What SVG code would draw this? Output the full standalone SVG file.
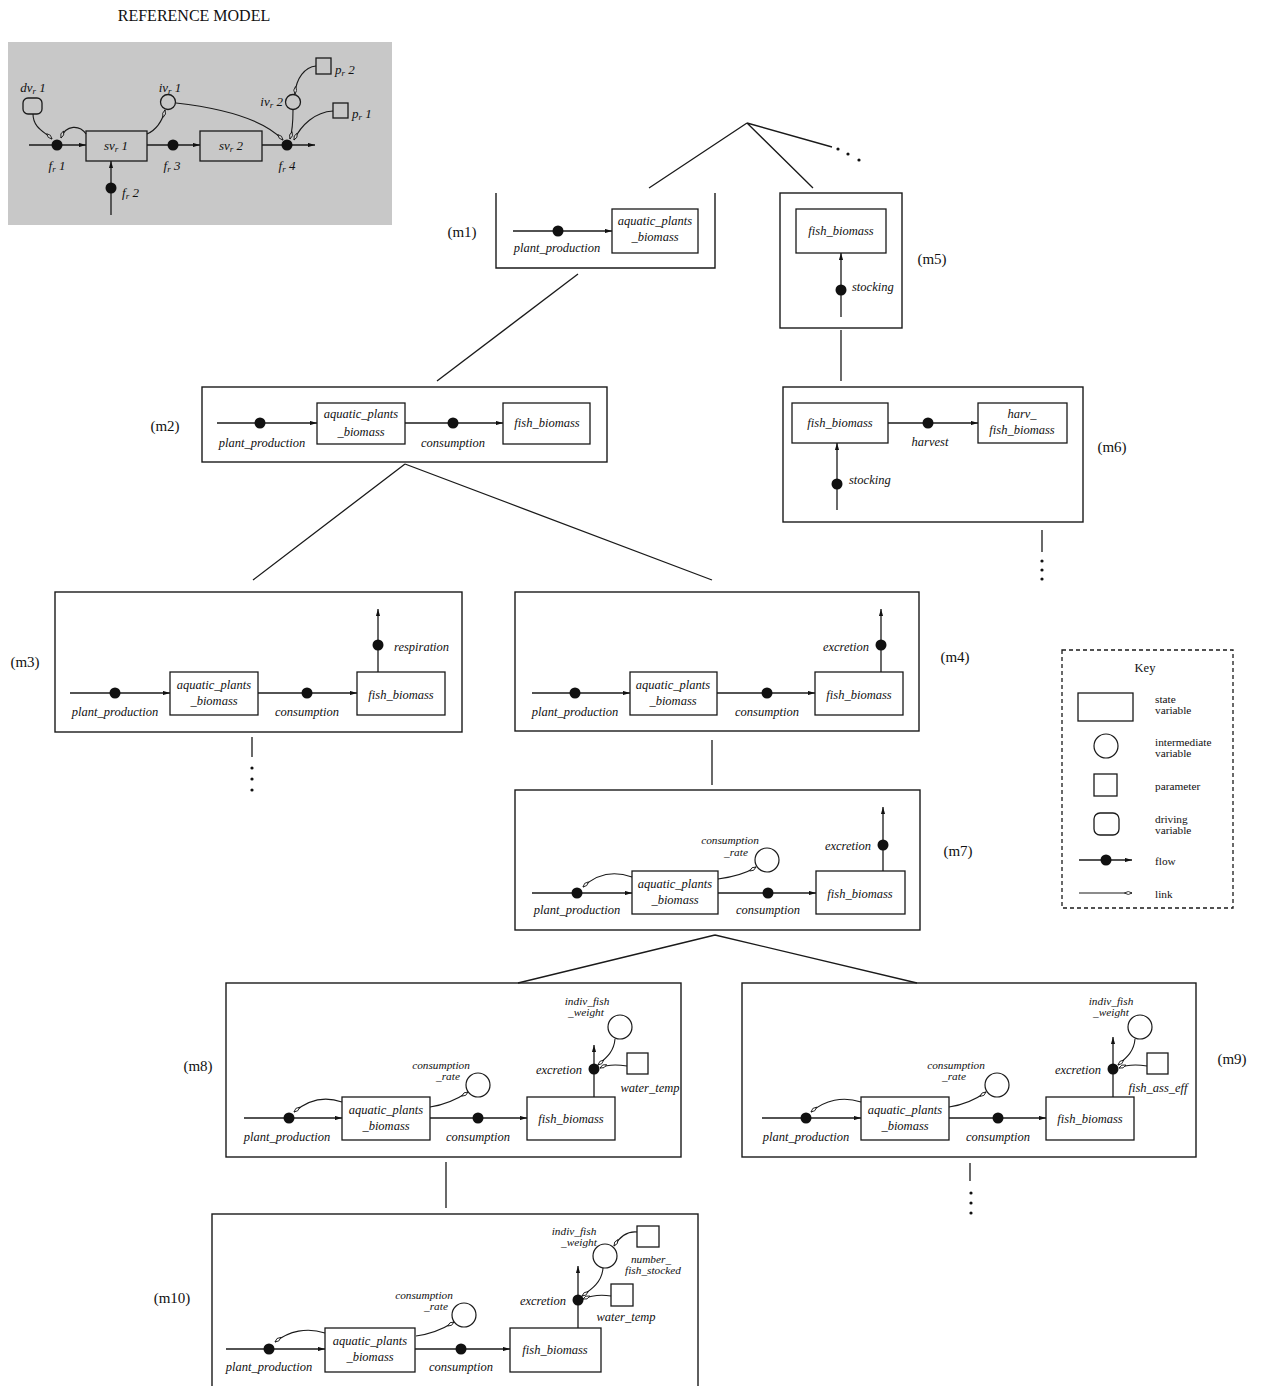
<svg xmlns="http://www.w3.org/2000/svg" width="1262" height="1386" viewBox="0 0 1262 1386">
<defs>
<style>
.ln{stroke:#1a1a1a;stroke-width:1.3;fill:none}
.fl{stroke:#1a1a1a;stroke-width:1.3;fill:none;marker-end:url(#fa)}
.lk{stroke:#1a1a1a;stroke-width:1.1;fill:none;marker-end:url(#la)}
.lkg{stroke:#1a1a1a;stroke-width:1.1;fill:none;marker-end:url(#lag)}
.box{stroke:#1a1a1a;stroke-width:1.4;fill:none}
.sv{stroke:#1a1a1a;stroke-width:1.3;fill:#fff}
.svg{stroke:#1a1a1a;stroke-width:1.3;fill:none}
.iv{stroke:#1a1a1a;stroke-width:1.2;fill:#fff}
.dot{fill:#111}
.t{font-family:"Liberation Serif",serif;font-style:italic;font-size:12.5px;fill:#111;text-anchor:middle}
.t2{font-family:"Liberation Serif",serif;font-style:italic;font-size:11.3px;fill:#111;text-anchor:middle}
.ts{font-family:"Liberation Serif",serif;font-style:italic;font-size:12.5px;fill:#111;text-anchor:start}
.te{font-family:"Liberation Serif",serif;font-style:italic;font-size:12.5px;fill:#111;text-anchor:end}
.m{font-family:"Liberation Serif",serif;font-size:15px;fill:#111;text-anchor:middle}
.k{font-family:"Liberation Serif",serif;font-size:11.3px;fill:#111;text-anchor:start}
.r{font-family:"Liberation Serif",serif;font-style:italic;font-size:13px;fill:#111}
.sub{font-size:9px}
</style>
<marker id="fa" viewBox="0 0 10 6" refX="10" refY="3" markerWidth="7" markerHeight="4.2" markerUnits="userSpaceOnUse" orient="auto"><path d="M0,0 L10,3 L0,6 Z" fill="#111"/></marker>
<marker id="la" viewBox="-1 -3 12 6" refX="10" refY="0" markerWidth="9" markerHeight="4.5" markerUnits="userSpaceOnUse" orient="auto"><path d="M0,0 L5,-2 L10,0 L5,2 Z" fill="#fff" stroke="#111" stroke-width="1.1"/></marker>
<marker id="lag" viewBox="-1 -3 12 6" refX="10" refY="0" markerWidth="9" markerHeight="4.5" markerUnits="userSpaceOnUse" orient="auto"><path d="M0,0 L5,-2 L10,0 L5,2 Z" fill="#d4d4d4" stroke="#111" stroke-width="1.1"/></marker>
</defs>
<rect width="1262" height="1386" fill="#fff"/>

<g id="reference-model">
<text x="194" y="21" font-family="Liberation Serif,serif" font-size="16" text-anchor="middle" fill="#111">REFERENCE MODEL</text>
<rect x="8" y="42" width="384" height="183" fill="#c8c8c8"/>
<path class="fl" d="M29,145 H86"/>
<path class="fl" d="M147,145 H200"/>
<path class="fl" d="M262,145 H315"/>
<path class="fl" d="M111,215 V161"/>
<rect class="svg" x="86" y="131" width="61" height="30"/>
<rect class="svg" x="200" y="131" width="62" height="30"/>
<circle class="dot" cx="57" cy="145" r="5.5"/>
<circle class="dot" cx="173" cy="145" r="5.5"/>
<circle class="dot" cx="287" cy="145" r="5.5"/>
<circle class="dot" cx="111" cy="188" r="5.5"/>
<rect class="svg" x="23" y="98" width="19" height="16" rx="5"/>
<circle class="svg" cx="168" cy="102" r="7.5"/>
<circle class="svg" cx="293" cy="102" r="7.5"/>
<rect class="svg" x="316" y="58" width="15" height="16"/>
<rect class="svg" x="333" y="103" width="15" height="15"/>
<path class="lkg" d="M33,114 C33,128 45,132 52,139"/>
<path class="lkg" d="M86,134 C80,125 66,124 61,138"/>
<path class="lkg" d="M147,134 C156,130 162,122 165,110"/>
<path class="lkg" d="M176,103 C220,108 262,118 283,140"/>
<path class="lkg" d="M293,110 C293,124 292,132 290,139"/>
<path class="lkg" d="M316,66 C305,67 296,78 295,94"/>
<path class="lkg" d="M333,111 C315,112 301,125 294,140"/>
<text class="r" x="116" y="150" text-anchor="middle">sv<tspan class="sub" dy="2">r</tspan><tspan dy="-2"> 1</tspan></text>
<text class="r" x="231" y="150" text-anchor="middle">sv<tspan class="sub" dy="2">r</tspan><tspan dy="-2"> 2</tspan></text>
<text class="r" x="33" y="92" text-anchor="middle">dv<tspan class="sub" dy="2">r</tspan><tspan dy="-2"> 1</tspan></text>
<text class="r" x="170" y="92" text-anchor="middle">iv<tspan class="sub" dy="2">r</tspan><tspan dy="-2"> 1</tspan></text>
<text class="r" x="283" y="106" text-anchor="end">iv<tspan class="sub" dy="2">r</tspan><tspan dy="-2"> 2</tspan></text>
<text class="r" x="335" y="74">p<tspan class="sub" dy="2">r</tspan><tspan dy="-2"> 2</tspan></text>
<text class="r" x="352" y="118">p<tspan class="sub" dy="2">r</tspan><tspan dy="-2"> 1</tspan></text>
<text class="r" x="57" y="170" text-anchor="middle">f<tspan class="sub" dy="2">r</tspan><tspan dy="-2"> 1</tspan></text>
<text class="r" x="172" y="170" text-anchor="middle">f<tspan class="sub" dy="2">r</tspan><tspan dy="-2"> 3</tspan></text>
<text class="r" x="287" y="170" text-anchor="middle">f<tspan class="sub" dy="2">r</tspan><tspan dy="-2"> 4</tspan></text>
<text class="r" x="122" y="197">f<tspan class="sub" dy="2">r</tspan><tspan dy="-2"> 2</tspan></text>
</g>

<g id="connectors">
<path class="ln" d="M747,123 L649,188 M747,123 L813,188 M747,123 L832,147"/>
<circle class="dot" cx="838" cy="149" r="1.6"/><circle class="dot" cx="848" cy="154" r="1.6"/><circle class="dot" cx="859" cy="160" r="1.6"/>
<path class="ln" d="M578,274 L437,381"/>
<path class="ln" d="M841,330 V381"/>
<path class="ln" d="M405,464 L253,580 M405,464 L712,580"/>
<path class="ln" d="M1042,530 V552"/>
<circle class="dot" cx="1042" cy="561" r="1.6"/><circle class="dot" cx="1042" cy="570" r="1.6"/><circle class="dot" cx="1042" cy="579" r="1.6"/>
<path class="ln" d="M252,737 V757"/>
<circle class="dot" cx="252" cy="768" r="1.6"/><circle class="dot" cx="252" cy="779" r="1.6"/><circle class="dot" cx="252" cy="790" r="1.6"/>
<path class="ln" d="M712,740 V785"/>
<path class="ln" d="M715,935 L518,983 M715,935 L917,983"/>
<path class="ln" d="M446,1162 V1208"/>
<path class="ln" d="M970,1163 V1181"/>
<circle class="dot" cx="971" cy="1193" r="1.6"/><circle class="dot" cx="971" cy="1203" r="1.6"/><circle class="dot" cx="971" cy="1213" r="1.6"/>
</g>

<g id="m1">
<path class="box" d="M496,193 V268 H715 V193"/>
<text class="m" x="462" y="237">(m1)</text>
<path class="fl" d="M513,231 H612"/>
<circle class="dot" cx="558" cy="231" r="5.5"/>
<rect class="sv" x="612" y="209" width="86" height="44"/>
<text class="t" x="655" y="225">aquatic_plants</text>
<text class="t" x="655" y="241">_biomass</text>
<text class="t" x="557" y="252">plant_production</text>
</g>

<g id="m5">
<rect class="box" x="780" y="193" width="122" height="135"/>
<text class="m" x="932" y="264">(m5)</text>
<rect class="sv" x="796" y="209" width="90" height="44"/>
<text class="t" x="841" y="235">fish_biomass</text>
<path class="fl" d="M841,317 V253"/>
<circle class="dot" cx="841" cy="290" r="5.5"/>
<text class="ts" x="852" y="291">stocking</text>
</g>

<g id="m2">
<rect class="box" x="202" y="387" width="405" height="75"/>
<text class="m" x="165" y="431">(m2)</text>
<path class="fl" d="M217,423 H317"/>
<circle class="dot" cx="260" cy="423" r="5.5"/>
<rect class="sv" x="317" y="403" width="88" height="41"/>
<text class="t" x="361" y="418">aquatic_plants</text>
<text class="t" x="361" y="436">_biomass</text>
<path class="fl" d="M405,423 H503"/>
<circle class="dot" cx="453" cy="423" r="5.5"/>
<rect class="sv" x="503" y="403" width="87" height="41"/>
<text class="t" x="547" y="427">fish_biomass</text>
<text class="t" x="262" y="447">plant_production</text>
<text class="t" x="453" y="447">consumption</text>
</g>

<g id="m6">
<rect class="box" x="783" y="387" width="300" height="135"/>
<text class="m" x="1112" y="452">(m6)</text>
<rect class="sv" x="792" y="403" width="96" height="40"/>
<text class="t" x="840" y="427">fish_biomass</text>
<path class="fl" d="M888,423 H978"/>
<circle class="dot" cx="928" cy="423" r="5.5"/>
<rect class="sv" x="978" y="403" width="89" height="40"/>
<text class="t" x="1022" y="418">harv_</text>
<text class="t" x="1022" y="434">fish_biomass</text>
<text class="t" x="930" y="446">harvest</text>
<path class="fl" d="M837,510 V443"/>
<circle class="dot" cx="837" cy="484" r="5.5"/>
<text class="ts" x="849" y="484">stocking</text>
</g>

<g id="m3">
<rect class="box" x="55" y="592" width="407" height="140"/>
<text class="m" x="25" y="667">(m3)</text>
<path class="fl" d="M70,693 H170"/>
<circle class="dot" cx="115" cy="693" r="5.5"/>
<rect class="sv" x="170" y="672" width="88" height="43"/>
<text class="t" x="214" y="689">aquatic_plants</text>
<text class="t" x="214" y="705">_biomass</text>
<path class="fl" d="M258,693 H357"/>
<circle class="dot" cx="307" cy="693" r="5.5"/>
<rect class="sv" x="357" y="672" width="88" height="43"/>
<text class="t" x="401" y="699">fish_biomass</text>
<path class="fl" d="M378,672 V609"/>
<circle class="dot" cx="378" cy="645" r="5.5"/>
<text class="ts" x="394" y="651">respiration</text>
<text class="t" x="115" y="716">plant_production</text>
<text class="t" x="307" y="716">consumption</text>
</g>

<g id="m4">
<rect class="box" x="515" y="592" width="404" height="139"/>
<text class="m" x="955" y="662">(m4)</text>
<path class="fl" d="M532,693 H630"/>
<circle class="dot" cx="575" cy="693" r="5.5"/>
<rect class="sv" x="630" y="672" width="87" height="43"/>
<text class="t" x="673" y="689">aquatic_plants</text>
<text class="t" x="673" y="705">_biomass</text>
<path class="fl" d="M717,693 H815"/>
<circle class="dot" cx="767" cy="693" r="5.5"/>
<rect class="sv" x="815" y="672" width="88" height="43"/>
<text class="t" x="859" y="699">fish_biomass</text>
<path class="fl" d="M881,672 V609"/>
<circle class="dot" cx="881" cy="645" r="5.5"/>
<text class="te" x="869" y="651">excretion</text>
<text class="t" x="575" y="716">plant_production</text>
<text class="t" x="767" y="716">consumption</text>
</g>

<g id="m7">
<rect class="box" x="515" y="790" width="405" height="140"/>
<text class="m" x="958" y="856">(m7)</text>
<path class="fl" d="M532,893 H632"/>
<circle class="dot" cx="577" cy="893" r="5.5"/>
<rect class="sv" x="632" y="871" width="86" height="43"/>
<text class="t" x="675" y="888">aquatic_plants</text>
<text class="t" x="675" y="904">_biomass</text>
<path class="fl" d="M718,893 H816"/>
<circle class="dot" cx="768" cy="893" r="5.5"/>
<rect class="sv" x="816" y="871" width="89" height="43"/>
<text class="t" x="860" y="898">fish_biomass</text>
<path class="fl" d="M883,871 V807"/>
<circle class="dot" cx="883" cy="845" r="5.5"/>
<text class="te" x="871" y="850">excretion</text>
<circle class="iv" cx="767" cy="860" r="12"/>
<text class="t2" x="730" y="844">consumption</text>
<text class="t2" x="736" y="855.5">_rate</text>
<path class="lk" d="M718,879 C733,877 745,874 756,867"/>
<path class="lk" d="M632,877 C615,871 599,872 583,887"/>
<text class="t" x="577" y="914">plant_production</text>
<text class="t" x="768" y="914">consumption</text>
</g>

<g id="m8">
<rect class="box" x="226" y="983" width="455" height="174"/>
<text class="m" x="198" y="1071">(m8)</text>
<path class="fl" d="M244,1118 H342"/>
<circle class="dot" cx="289" cy="1118" r="5.5"/>
<rect class="sv" x="342" y="1097" width="88" height="43"/>
<text class="t" x="386" y="1114">aquatic_plants</text>
<text class="t" x="386" y="1130">_biomass</text>
<path class="fl" d="M430,1118 H527"/>
<circle class="dot" cx="478" cy="1118" r="5.5"/>
<rect class="sv" x="527" y="1097" width="88" height="43"/>
<text class="t" x="571" y="1123">fish_biomass</text>
<path class="fl" d="M594,1097 V1045"/>
<circle class="dot" cx="594" cy="1069" r="5.5"/>
<text class="te" x="582" y="1074">excretion</text>
<circle class="iv" cx="620" cy="1027" r="12"/>
<text class="t2" x="587" y="1004.5">indiv_fish</text>
<text class="t2" x="586" y="1016">_weight</text>
<rect class="sv" x="627" y="1053" width="21" height="21"/>
<text class="t" x="650" y="1092">water_temp</text>
<path class="lk" d="M615,1039 C614,1052 606,1058 598,1065"/>
<path class="lk" d="M627,1066 C614,1064 606,1065 600,1068"/>
<circle class="iv" cx="478" cy="1085" r="12"/>
<text class="t2" x="441" y="1068.5">consumption</text>
<text class="t2" x="448" y="1080">_rate</text>
<path class="lk" d="M430,1107 C444,1105 456,1100 468,1092"/>
<path class="lk" d="M342,1102 C325,1096 308,1100 294,1112"/>
<text class="t" x="287" y="1141">plant_production</text>
<text class="t" x="478" y="1141">consumption</text>
</g>

<g id="m9">
<rect class="box" x="742" y="983" width="454" height="174"/>
<text class="m" x="1232" y="1064">(m9)</text>
<path class="fl" d="M762,1118 H861"/>
<circle class="dot" cx="806" cy="1118" r="5.5"/>
<rect class="sv" x="861" y="1097" width="88" height="43"/>
<text class="t" x="905" y="1114">aquatic_plants</text>
<text class="t" x="905" y="1130">_biomass</text>
<path class="fl" d="M949,1118 H1046"/>
<circle class="dot" cx="998" cy="1118" r="5.5"/>
<rect class="sv" x="1046" y="1097" width="88" height="43"/>
<text class="t" x="1090" y="1123">fish_biomass</text>
<path class="fl" d="M1113,1097 V1037"/>
<circle class="dot" cx="1113" cy="1069" r="5.5"/>
<text class="te" x="1101" y="1074">excretion</text>
<circle class="iv" cx="1140" cy="1027" r="12"/>
<text class="t2" x="1111" y="1004.5">indiv_fish</text>
<text class="t2" x="1111" y="1016">_weight</text>
<rect class="sv" x="1147" y="1053" width="21" height="21"/>
<text class="t" x="1158" y="1092">fish_ass_eff</text>
<path class="lk" d="M1135,1039 C1134,1052 1126,1058 1118,1065"/>
<path class="lk" d="M1147,1066 C1134,1064 1126,1065 1119,1068"/>
<circle class="iv" cx="997" cy="1085" r="12"/>
<text class="t2" x="956" y="1068.5">consumption</text>
<text class="t2" x="954" y="1080">_rate</text>
<path class="lk" d="M949,1107 C963,1105 975,1100 986,1092"/>
<path class="lk" d="M861,1102 C843,1096 825,1100 811,1112"/>
<text class="t" x="806" y="1141">plant_production</text>
<text class="t" x="998" y="1141">consumption</text>
</g>

<g id="m10">
<rect class="box" x="212" y="1214" width="486" height="190"/>
<text class="m" x="172" y="1303">(m10)</text>
<path class="fl" d="M226,1349 H325"/>
<circle class="dot" cx="269" cy="1349" r="5.5"/>
<rect class="sv" x="325" y="1328" width="90" height="44"/>
<text class="t" x="370" y="1345">aquatic_plants</text>
<text class="t" x="370" y="1361">_biomass</text>
<path class="fl" d="M415,1349 H510"/>
<circle class="dot" cx="461" cy="1349" r="5.5"/>
<rect class="sv" x="510" y="1328" width="91" height="44"/>
<text class="t" x="555" y="1354">fish_biomass</text>
<path class="fl" d="M578,1328 V1266"/>
<circle class="dot" cx="578" cy="1300" r="5.5"/>
<text class="te" x="566" y="1305">excretion</text>
<circle class="iv" cx="605" cy="1256" r="12"/>
<text class="t2" x="574" y="1234.5">indiv_fish</text>
<text class="t2" x="579" y="1246">_weight</text>
<rect class="sv" x="637" y="1226" width="22" height="21"/>
<text class="t2" x="651" y="1262.5">number_</text>
<text class="t2" x="653" y="1274">fish_stocked</text>
<path class="lk" d="M637,1232 C627,1231 619,1238 614,1246"/>
<rect class="sv" x="611" y="1284" width="22" height="22"/>
<text class="t" x="626" y="1321">water_temp</text>
<path class="lk" d="M611,1296 C598,1294 590,1296 583,1299"/>
<path class="lk" d="M603,1268 C602,1282 592,1289 582,1296"/>
<circle class="iv" cx="464" cy="1315" r="12"/>
<text class="t2" x="424" y="1298.5">consumption</text>
<text class="t2" x="436" y="1310">_rate</text>
<path class="lk" d="M416,1336 C431,1334 443,1329 454,1322"/>
<path class="lk" d="M325,1333 C307,1327 289,1331 275,1342"/>
<text class="t" x="269" y="1371">plant_production</text>
<text class="t" x="461" y="1371">consumption</text>
</g>

<g id="key">
<rect x="1062" y="650" width="171" height="258" fill="none" stroke="#1a1a1a" stroke-width="1.3" stroke-dasharray="4,3"/>
<text x="1145" y="672" font-family="Liberation Serif,serif" font-size="12.5" text-anchor="middle" fill="#111">Key</text>
<rect class="sv" x="1078" y="693" width="55" height="28"/>
<text class="k" x="1155" y="702.5">state</text>
<text class="k" x="1155" y="714">variable</text>
<circle class="iv" cx="1106" cy="746" r="12"/>
<text class="k" x="1155" y="745.5">intermediate</text>
<text class="k" x="1155" y="757">variable</text>
<rect class="sv" x="1094" y="774" width="23" height="22"/>
<text class="k" x="1155" y="790">parameter</text>
<rect class="sv" x="1094" y="813" width="25" height="22" rx="6"/>
<text class="k" x="1155" y="822.5">driving</text>
<text class="k" x="1155" y="834">variable</text>
<path class="fl" d="M1079,860 H1132"/>
<circle class="dot" cx="1106" cy="860" r="5.5"/>
<text class="k" x="1155" y="865">flow</text>
<path class="lk" d="M1079,893 H1132"/>
<text class="k" x="1155" y="898">link</text>
</g>
</svg>
